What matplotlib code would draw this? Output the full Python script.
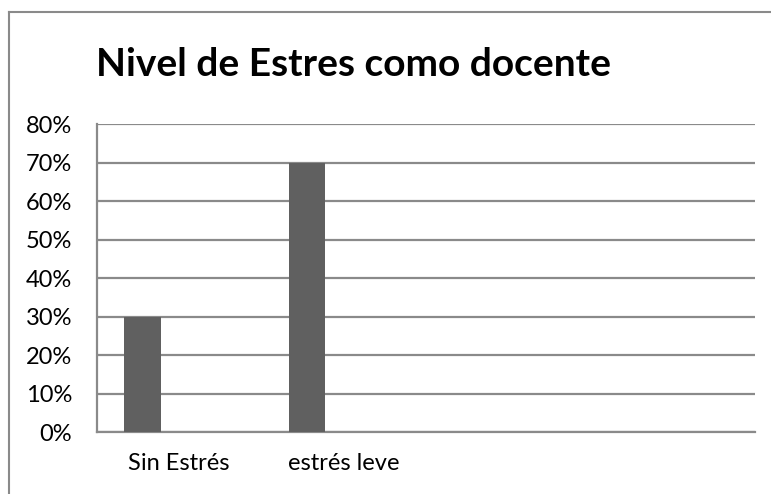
import matplotlib
matplotlib.use("Agg")
import matplotlib.pyplot as plt
import numpy as np
from matplotlib.lines import Line2D

title = "Nivel de Estres como docente"
categories = ["Sin Estrés", "estrés leve", "", ""]
series1 = [0.30, 0.70, np.nan, np.nan]
yticks = [0.0, 0.1, 0.2, 0.3, 0.4, 0.5, 0.6, 0.7, 0.8]
ytick_labels = ["0%", "10%", "20%", "30%", "40%", "50%", "60%", "70%", "80%"]

W, H = 771, 494
fig = plt.figure(figsize=(W / 100, H / 100), dpi=100)
fig.patch.set_facecolor("white")

ax = fig.add_axes([97 / W, 1 - 432 / H, (755 - 97) / W, (432 - 124) / H])

n_series = 3
bw = 1 / (n_series + 1.5)
x = np.arange(len(categories))
ax.bar(x - bw, series1, width=bw, color="#606060", zorder=3)

ax.set_xlim(-0.5, len(categories) - 0.5)
ax.set_ylim(0, 0.8)
ax.set_yticks(yticks)
ax.set_yticklabels(ytick_labels)
ax.set_xticks(x)
ax.set_xticklabels(categories)

ax.yaxis.grid(True, color="#8a8a8a", linewidth=1.6, zorder=0)
ax.set_axisbelow(True)
for s in ["top", "right"]:
    ax.spines[s].set_visible(False)
for s in ["left", "bottom"]:
    ax.spines[s].set_color("#8a8a8a")
    ax.spines[s].set_linewidth(1.6)

font = "Lato"
ax.tick_params(axis="both", length=0, labelsize=17)
ax.tick_params(axis="y", pad=18)
ax.tick_params(axis="x", pad=15)
for lab in ax.get_xticklabels() + ax.get_yticklabels():
    lab.set_fontfamily(font)

fig.text(354 / W, 1 - 64 / H, title, ha="center", va="center",
         fontsize=28, fontweight="bold", fontfamily=font)

# outer chart border
fig.add_artist(Line2D([9 / W, 1.0], [1 - 12 / H, 1 - 12 / H], transform=fig.transFigure,
                      color="#8a8a8a", linewidth=1.5))
fig.add_artist(Line2D([9 / W, 9 / W], [0.0, 1 - 12 / H], transform=fig.transFigure,
                      color="#8a8a8a", linewidth=1.5))

fig.savefig("out.png", dpi=100)
